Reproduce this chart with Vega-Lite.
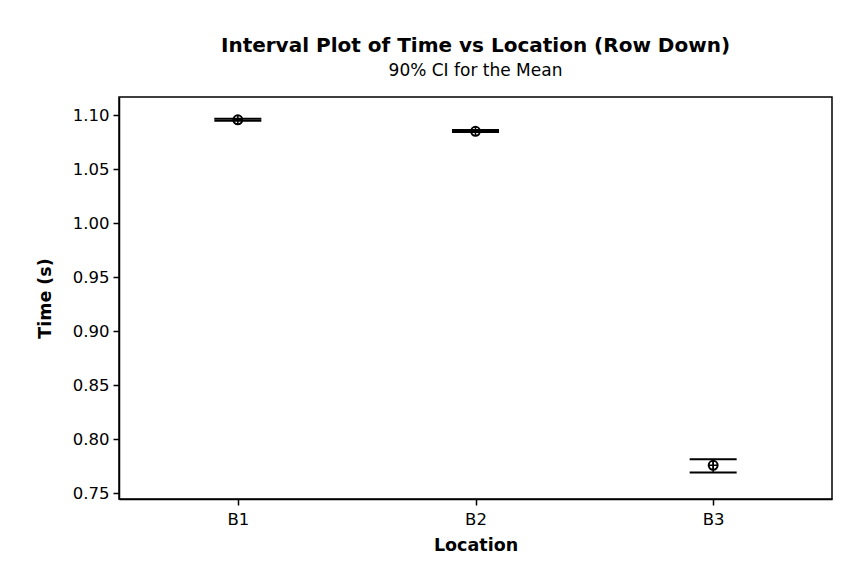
{
  "$schema": "https://vega.github.io/schema/vega-lite/v6.json",
  "autosize": "none",
  "width": 713,
  "height": 402,
  "padding": {"left": 119, "top": 97, "right": 31, "bottom": 79},
  "background": "white",
  "config": {
    "font": "DejaVu Sans",
    "view": {"stroke": "black", "strokeWidth": 1.5},
    "axis": {
      "grid": false,
      "domainColor": "black",
      "domainWidth": 1.5,
      "tickColor": "black",
      "tickWidth": 1.5,
      "labelColor": "black",
      "titleColor": "black",
      "labelFont": "DejaVu Sans",
      "titleFont": "DejaVu Sans",
      "labelFontSize": 16.5,
      "titleFontSize": 17.5,
      "titleFontWeight": "bold",
      "tickSize": 6
    }
  },
  "title": {
    "text": "Interval Plot of Time vs Location (Row Down)",
    "subtitle": "90% CI for the Mean",
    "anchor": "middle",
    "font": "DejaVu Sans",
    "fontSize": 20,
    "fontWeight": "bold",
    "color": "black",
    "subtitleFont": "DejaVu Sans",
    "subtitleFontSize": 17,
    "subtitleColor": "black",
    "subtitlePadding": 7,
    "offset": 18
  },
  "data": {
    "values": [
      {"Location": "B1", "mean": 1.0956, "lower": 1.0947, "upper": 1.0965},
      {"Location": "B2", "mean": 1.0850, "lower": 1.0842, "upper": 1.0861},
      {"Location": "B3", "mean": 0.7759, "lower": 0.7692, "upper": 0.7815}
    ]
  },
  "encoding": {
    "x": {
      "field": "Location",
      "type": "nominal",
      "scale": {"type": "point", "padding": 0.5},
      "axis": {"labelAngle": 0, "title": "Location", "labelPadding": 6, "titlePadding": 9}
    }
  },
  "layer": [
    {
      "mark": {"type": "rule", "color": "black", "strokeWidth": 1.5},
      "encoding": {
        "y": {
          "field": "lower",
          "type": "quantitative",
          "scale": {"domain": [0.7447, 1.1167], "nice": false, "zero": false},
          "axis": {"title": "Time (s)", "values": [0.75, 0.8, 0.85, 0.9, 0.95, 1.0, 1.05, 1.1], "format": ".2f", "titlePadding": 18, "labelPadding": 4}
        },
        "y2": {"field": "upper"}
      }
    },
    {
      "mark": {"type": "tick", "color": "black", "size": 47, "thickness": 2, "orient": "horizontal", "opacity": 1},
      "encoding": {"y": {"field": "upper", "type": "quantitative"}}
    },
    {
      "mark": {"type": "tick", "color": "black", "size": 47, "thickness": 2, "orient": "horizontal", "opacity": 1},
      "encoding": {"y": {"field": "lower", "type": "quantitative"}}
    },
    {
      "mark": {"type": "point", "shape": "circle", "filled": false, "size": 80, "stroke": "black", "strokeWidth": 2, "opacity": 1},
      "encoding": {"y": {"field": "mean", "type": "quantitative"}}
    },
    {
      "mark": {"type": "point", "shape": "M -1 0 L 1 0 M 0 -1 L 0 1", "filled": false, "size": 80, "stroke": "black", "strokeWidth": 1.5, "opacity": 1},
      "encoding": {"y": {"field": "mean", "type": "quantitative"}}
    }
  ]
}
